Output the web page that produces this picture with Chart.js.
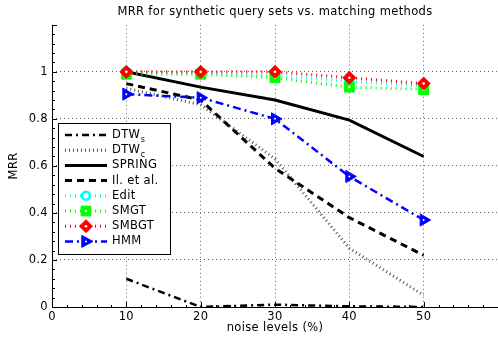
<!DOCTYPE html>
<html>
<head>
<meta charset="utf-8">
<script src="https://cdn.jsdelivr.net/npm/chart.js@4.4.1/dist/chart.umd.min.js"></script>
<style>
  html, body { margin: 0; padding: 0; background: #fff; }
  #wrap { width: 498px; height: 337px; }
</style>
</head>
<body>
<div id="wrap"><canvas id="mrr"></canvas></div>
<script>
// values
const noiseLevels = [10, 20, 30, 40, 50];
const dtwS   = [0.12, 0.0, 0.01, 0.003, 0.0];
const dtwC   = [0.93, 0.86, 0.63, 0.25, 0.05];
const spring = [1.0, 0.935, 0.88, 0.795, 0.64];
const ilEtAl = [0.95, 0.88, 0.59, 0.38, 0.22];
const edit   = [1.0, 0.995, 0.985, 0.96, 0.94];
const smgt   = [0.99, 0.99, 0.975, 0.935, 0.925];
const smbgt  = [1.0, 1.0, 1.0, 0.975, 0.95];
const hmm    = [0.905, 0.89, 0.80, 0.555, 0.37];
const xTicks = [0, 10, 20, 30, 40, 50];
const yTicks = [0, 0.2, 0.4, 0.6, 0.8, 1];

const FONT = "'DejaVu Sans', 'Liberation Sans', sans-serif";
const FS = 11.5;

function pts(vals) {
    return vals.map((v, i) => ({x: noiseLevels[i], y: v}));
}

// legend rows: label, subscript
const legendRows = [
    ['DTW', 's'], ['DTW', 'c'], ['SPRING', ''], ['Il. et al.', ''],
    ['Edit', ''], ['SMGT', ''], ['SMBGT', ''], ['HMM', '']
];

function marker(ctx, ds, x, y) {
    const r = ds.pointRadius;
    if (!r) return;
    ctx.save();
    ctx.setLineDash([]);
    ctx.fillStyle = ds.pointBackgroundColor;
    ctx.strokeStyle = ds.pointBorderColor;
    ctx.lineWidth = ds.pointBorderWidth;
    ctx.beginPath();
    if (ds.pointStyle === 'circle') {
        ctx.arc(x, y, r, 0, Math.PI * 2);
    } else if (ds.pointStyle === 'rect') {
        ctx.rect(x - r * 0.7, y - r * 0.7, r * 1.4, r * 1.4);
    } else if (ds.pointStyle === 'rectRot') {
        ctx.moveTo(x, y - r); ctx.lineTo(x + r, y); ctx.lineTo(x, y + r); ctx.lineTo(x - r, y);
        ctx.closePath();
    } else if (ds.pointStyle === 'triangle') {
        ctx.moveTo(x + r, y); ctx.lineTo(x - r * 0.6, y - r * 0.85); ctx.lineTo(x - r * 0.6, y + r * 0.85);
        ctx.closePath();
    }
    ctx.fill();
    ctx.stroke();
    if (ds.centerDot) {
        ctx.fillStyle = '#fff';
        ctx.beginPath();
        ctx.arc(x, y, ds.centerDot, 0, Math.PI * 2);
        ctx.fill();
    }
    ctx.restore();
}

const figurePlugin = {
    id: 'figure',
    beforeDraw(chart) {
        chart.ctx.letterSpacing = '0.35px';
    },
    afterDatasetDraw(chart, args) {
        const ds = chart.data.datasets[args.index];
        if (!ds.centerDot) return;
        const ctx = chart.ctx;
        ctx.save();
        ctx.fillStyle = '#fff';
        args.meta.data.forEach(p => {
            ctx.beginPath();
            ctx.arc(p.x, p.y, ds.centerDot, 0, Math.PI * 2);
            ctx.fill();
        });
        ctx.restore();
    },
    afterDatasetsDraw(chart) {
        const ctx = chart.ctx;
        const a = chart.chartArea;
        const xs = chart.scales.x, ys = chart.scales.y;
        ctx.save();
        // axes
        ctx.setLineDash([]);
        ctx.strokeStyle = '#000';
        ctx.lineWidth = 1;
        ctx.beginPath();
        ctx.moveTo(a.left + 0.5, a.top);
        ctx.lineTo(a.left + 0.5, a.bottom + 0.5);
        ctx.lineTo(a.right, a.bottom + 0.5);
        ctx.stroke();
        // inward tick marks
        ctx.beginPath();
        for (let v = 0; v <= 60; v += 2) {
            const px = Math.round(xs.getPixelForValue(v)) + 0.5;
            const len = v % 10 === 0 ? 5 : 2;
            ctx.moveTo(px, a.bottom);
            ctx.lineTo(px, a.bottom - len);
        }
        for (let k = 0; k <= 30; k++) {
            const v = k * 0.04;
            const py = Math.round(ys.getPixelForValue(v)) + 0.5;
            const len = k % 5 === 0 ? 5 : 3;
            ctx.moveTo(a.left, py);
            ctx.lineTo(a.left + len, py);
        }
        ctx.stroke();

        // legend box
        const bx = 58, by = 123, bw = 112, bh = 131;
        ctx.fillStyle = '#fff';
        ctx.fillRect(bx, by, bw, bh);
        ctx.strokeStyle = '#000';
        ctx.lineWidth = 1;
        ctx.strokeRect(bx + 0.5, by + 0.5, bw, bh);
        chart.data.datasets.forEach((ds, i) => {
            const ry = by + 12 + i * 15.2;
            ctx.save();
            ctx.strokeStyle = ds.borderColor;
            ctx.lineWidth = ds.borderWidth;
            ctx.setLineDash(ds.borderDash || []);
            ctx.beginPath();
            ctx.moveTo(65, ry);
            ctx.lineTo(107, ry);
            ctx.stroke();
            ctx.restore();
            marker(ctx, ds, 86, ry);
            const row = legendRows[i];
            ctx.fillStyle = '#000';
            ctx.font = FS + 'px ' + FONT;
            ctx.textBaseline = 'middle';
            ctx.textAlign = 'left';
            ctx.fillText(row[0], 112, ry);
            if (row[1]) {
                const w = ctx.measureText(row[0]).width;
                ctx.font = '8px ' + FONT;
                ctx.fillText(row[1], 112 + w + 0.5, ry + 5);
            }
        });
        ctx.restore();
    }
};

const dotted = [1, 4];
const datasets = [
    {label: 'DTWs', data: pts(dtwS), borderColor: '#000', borderWidth: 2.5,
     borderDash: [7, 4, 2, 4], pointRadius: 0},
    {label: 'DTWc', data: pts(dtwC), borderColor: '#555', borderWidth: 3,
     borderDash: [1, 3], pointRadius: 0},
    {label: 'SPRING', data: pts(spring), borderColor: '#000', borderWidth: 3, pointRadius: 0},
    {label: 'Il. et al.', data: pts(ilEtAl), borderColor: '#000', borderWidth: 3,
     borderDash: [7, 5], pointRadius: 0},
    {label: 'Edit', data: pts(edit), borderColor: '#00ffff', borderWidth: 3, borderDash: dotted,
     pointStyle: 'circle', pointRadius: 4, pointBorderWidth: 2.5,
     pointBorderColor: '#00ffff', pointBackgroundColor: '#fff'},
    {label: 'SMGT', data: pts(smgt), borderColor: '#00ff00', borderWidth: 3, borderDash: dotted,
     pointStyle: 'rect', pointRadius: 7, pointBorderWidth: 1,
     pointBorderColor: '#00ff00', pointBackgroundColor: '#00ff00', centerDot: 1.3},
    {label: 'SMBGT', data: pts(smbgt), borderColor: '#ff0000', borderWidth: 3, borderDash: dotted,
     pointStyle: 'rectRot', pointRadius: 6.5, pointBorderWidth: 1,
     pointBorderColor: '#ff0000', pointBackgroundColor: '#ff0000', centerDot: 1.3},
    {label: 'HMM', data: pts(hmm), borderColor: '#0000ff', borderWidth: 2.5,
     borderDash: [8, 4, 2, 4], pointStyle: 'triangle', pointRotation: 90, pointRadius: 7,
     pointBorderWidth: 1, pointBorderColor: '#0000ff', pointBackgroundColor: '#0000ff', centerDot: 1}
];
datasets.forEach((ds, i) => {
    ds.order = datasets.length - i;
    ds.fill = false;
    ds.tension = 0;
    ds.pointHoverRadius = ds.pointRadius;
});

const gridColor = (lim) => (c) => (c.tick && c.tick.value > 0 && c.tick.value < lim) ? '#666' : 'rgba(0,0,0,0)';

new Chart(document.getElementById('mrr'), {
    type: 'line',
    data: {datasets: datasets},
    plugins: [figurePlugin],
    options: {
        responsive: true,
        maintainAspectRatio: false,
        animation: false,
        layout: {autoPadding: false, padding: 0},
        plugins: {
            legend: {display: false},
            tooltip: {enabled: false},
            title: {
                display: true,
                fullSize: false,
                text: 'MRR for synthetic query sets vs. matching methods',
                color: '#000',
                font: {family: FONT, size: FS, weight: 'normal'},
                padding: {top: 5, bottom: 6}
            }
        },
        scales: {
            x: {
                type: 'linear', min: 0, max: 60,
                afterFit(s) { s.height = 30; s.paddingRight = 0; },
                afterBuildTicks(s) { s.ticks = [0, 10, 20, 30, 40, 50, 60].map(v => ({value: v})); },
                ticks: {
                    color: '#000', padding: 3, maxRotation: 0,
                    font: {family: FONT, size: FS},
                    callback: (v) => xTicks.includes(v) ? String(v) : ''
                },
                grid: {color: gridColor(60), drawTicks: false, lineWidth: 1},
                border: {display: false, dash: [1, 3]},
                title: {display: true, text: 'noise levels (%)', color: '#000',
                        font: {family: FONT, size: FS}, padding: {top: 0, bottom: 2}}
            },
            y: {
                type: 'linear', min: 0, max: 1.2,
                afterFit(s) { s.width = 52; },
                afterBuildTicks(s) { s.ticks = [0, 0.2, 0.4, 0.6, 0.8, 1, 1.2].map(v => ({value: v})); },
                ticks: {
                    color: '#000', padding: 4,
                    font: {family: FONT, size: FS},
                    callback: (v) => {
                        const t = yTicks.find(q => Math.abs(q - v) < 1e-6);
                        return t === undefined ? '' : String(t);
                    }
                },
                grid: {color: gridColor(1.1), drawTicks: false, lineWidth: 1},
                border: {display: false, dash: [1, 3]},
                title: {display: true, text: 'MRR', color: '#000',
                        font: {family: FONT, size: FS}, padding: {top: 7, bottom: 4}}
            }
        }
    }
});
</script>
</body>
</html>
